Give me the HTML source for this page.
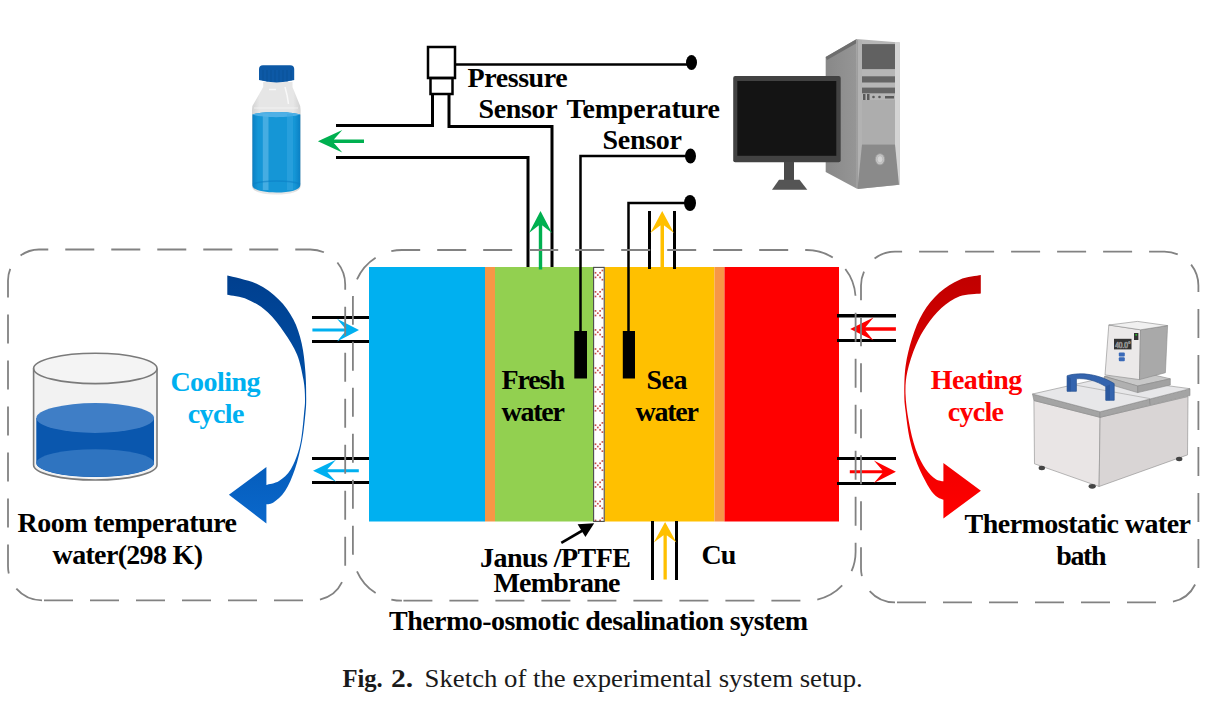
<!DOCTYPE html>
<html><head><meta charset="utf-8">
<style>
html,body{margin:0;padding:0;background:#fff;width:1225px;height:708px;overflow:hidden}
svg{display:block}
.t{font-family:"Liberation Serif",serif;font-weight:bold;fill:#000;font-size:28px}
.cap{font-family:"Liberation Serif",serif;font-size:25.5px;fill:#1a1a1a}
</style></head><body>
<svg width="1225" height="708" viewBox="0 0 1225 708">

<!-- ICONS -->
<defs>
 <linearGradient id="gBlueArr" x1="0" y1="0" x2="0" y2="1">
  <stop offset="0" stop-color="#003f8e"/><stop offset="0.5" stop-color="#0050a8"/><stop offset="1" stop-color="#0a68cc"/>
 </linearGradient>
 <linearGradient id="gRedArr" x1="0" y1="0" x2="0" y2="1">
  <stop offset="0" stop-color="#c00000"/><stop offset="0.45" stop-color="#e00000"/><stop offset="1" stop-color="#ff0000"/>
 </linearGradient>
 <linearGradient id="gTower" x1="0" y1="0" x2="1" y2="0"><stop offset="0" stop-color="#888"/><stop offset="1" stop-color="#969696"/></linearGradient>
 <linearGradient id="gWater" x1="0" y1="0" x2="1" y2="0">
  <stop offset="0" stop-color="#0b80c4"/><stop offset="0.12" stop-color="#1596d6"/><stop offset="0.88" stop-color="#1596d6"/><stop offset="1" stop-color="#0b80c4"/>
 </linearGradient>
 <linearGradient id="gGlass" x1="0" y1="0" x2="1" y2="0">
  <stop offset="0" stop-color="#d2d2d2"/><stop offset="0.15" stop-color="#e6e6e6"/><stop offset="0.85" stop-color="#e6e6e6"/><stop offset="1" stop-color="#d2d2d2"/>
 </linearGradient>
</defs>
<!-- blue curved arrow -->
<path id="blueArrow" fill="url(#gBlueArr)" d="M227.3,275.5 C232.2,276.9 248.1,279.8 256.7,283.8 C265.3,287.8 272.6,293.4 278.7,299.4 C284.8,305.3 289.6,312.2 293.4,319.5 C297.2,326.8 299.7,334.8 301.7,343.4 C303.7,352.0 304.6,361.8 305.3,371.0 C306.1,380.2 306.2,391.3 306.2,398.4 C306.2,405.5 306.1,406.6 305.4,413.7 C304.7,420.8 303.7,431.8 302.0,441.0 C300.3,450.2 297.8,460.7 295.0,469.0 C292.2,477.3 288.8,485.2 285.2,490.8 C281.6,496.4 276.5,500.4 273.4,502.6 C270.3,504.8 267.6,503.9 266.4,504.2 L266.4,523.4 L228.9,494.7 L266.4,467 L266.4,484.9 C268.5,484.2 274.9,483.6 279.0,481.0 C283.1,478.4 287.5,474.9 291.0,469.0 C294.5,463.1 297.8,454.5 300.0,445.3 C302.2,436.1 303.2,421.5 304.0,413.7 C304.8,405.9 305.1,404.0 305.0,398.4 C304.9,392.8 304.8,387.3 303.5,380.0 C302.2,372.7 300.2,362.3 297.0,354.4 C293.8,346.5 289.1,339.4 284.2,332.4 C279.3,325.4 273.8,317.7 267.7,312.2 C261.6,306.7 254.2,302.3 247.5,299.4 C240.8,296.5 230.7,295.6 227.3,294.8 Z"/>
<!-- red curved arrow -->
<path id="redArrow" fill="url(#gRedArr)" d="M980.8,275.1 C977.3,275.9 966.6,276.8 959.7,279.7 C952.8,282.6 945.6,287.0 939.5,292.5 C933.4,298.0 927.6,305.1 923.0,312.7 C918.4,320.3 914.9,329.5 912.0,338.4 C909.1,347.3 906.9,356.7 905.6,365.9 C904.3,375.1 904.3,386.1 904.3,393.4 C904.3,400.7 904.5,402.1 905.4,409.8 C906.3,417.5 907.8,430.2 909.8,439.4 C911.8,448.6 914.8,457.5 917.7,465.1 C920.7,472.7 924.5,479.8 927.5,484.9 C930.5,490.0 932.9,493.2 935.5,495.7 C938.1,498.2 942.1,499.0 943.4,499.7 L943.4,518.5 L980.9,490.8 L943.4,463.1 L943.4,481.3 C942.1,480.9 938.5,480.9 935.5,478.9 C932.5,476.8 928.9,473.9 925.6,469.0 C922.3,464.1 918.5,457.2 915.7,449.3 C912.9,441.4 910.5,430.9 908.8,421.6 C907.1,412.3 905.7,401.8 905.5,393.4 C905.3,385.0 905.7,379.3 907.4,371.4 C909.1,363.4 912.5,353.3 915.7,345.7 C918.9,338.1 922.4,331.8 926.7,325.5 C931.0,319.2 935.9,313.0 941.4,308.1 C946.9,303.2 953.1,298.6 959.7,296.2 C966.3,293.8 977.3,293.9 980.8,293.4 Z"/>

<!-- bottle -->
<g id="bottle">
 <path d="M263.2,82 L292.5,82 L292.5,87 L300.2,106 L300.6,110 L300.6,186 C300.6,192 290,194.5 276.5,194.5 C263,194.5 252,192 252,186 L252,110 L252.4,106 L263.2,87 Z" fill="url(#gGlass)"/>
 <path d="M252.4,114.5 C262,111 290,111 300.3,114.5 L300.3,185 C300.3,190 290,192.5 276.4,192.5 C263,192.5 252.4,190 252.4,185 Z" fill="url(#gWater)"/>
 <path d="M252.4,114.5 C262,111 290,111 300.3,114.5 C290,118 262,118 252.4,114.5 Z" fill="#4fb0e6"/>
 <rect x="262.8" y="114" width="5.7" height="76" fill="#56b4e6" opacity="0.75"/>
 <rect x="287" y="114" width="6" height="76" fill="#3aa8e2" opacity="0.5"/>
 <path d="M253,184 C262,180 291,180 300,184" stroke="#0b7fc4" stroke-width="1.5" fill="none" opacity="0.6"/>
 <path d="M269,89.5 L276,89.5" stroke="#fafafa" stroke-width="1.5" opacity="0.9"/>
 <path d="M285,87 C287,94 288,99 288.5,104" stroke="#fafafa" stroke-width="1.5" fill="none" opacity="0.9"/>
 <path d="M254,108 L298,108" stroke="#f6f6f6" stroke-width="1.2" opacity="0.8"/>
 <path d="M259,69 Q259,65.3 263,65.2 L290.2,65.2 Q294.2,65.3 294.2,69 L294.2,80 Q276.6,84.8 259,80 Z" fill="#0d59a6"/>
 <g stroke="#0a4b8e" stroke-width="0.8" opacity="0.6">
  <line x1="263" y1="70" x2="263" y2="81"/><line x1="267" y1="70" x2="267" y2="82"/><line x1="271" y1="70" x2="271" y2="82"/><line x1="275" y1="70" x2="275" y2="82"/><line x1="279" y1="70" x2="279" y2="82"/><line x1="283" y1="70" x2="283" y2="82"/><line x1="287" y1="70" x2="287" y2="82"/><line x1="291" y1="70" x2="291" y2="81"/>
 </g>
</g>

<!-- computer -->
<g id="computer">
 <!-- tower side -->
 <path d="M825.7,57 L856.8,39 L857.5,189 L825.7,172 Z" fill="url(#gTower)"/>
 <path d="M825.7,57 L856.8,39 L856.8,43 L827,60 Z" fill="#6e6e6e"/>
 <!-- tower front -->
 <path d="M856.5,39 L899.7,42.4 L899.7,184.7 L857.5,189 Z" fill="#b6b6b6"/>
 <rect x="856.5" y="40" width="5.5" height="148" fill="#b2b2b2"/>
 <rect x="856.5" y="40" width="1.3" height="148" fill="#9a9a9a"/>
 <rect x="895" y="42" width="4.7" height="143" fill="#d4d4d4"/>
 <rect x="862" y="44.1" width="33" height="25" fill="#616161"/>
 <rect x="862" y="76.3" width="33" height="6.2" fill="#656565"/>
 <rect x="862" y="87.6" width="33" height="5.7" fill="#656565"/>
 <rect x="863" y="94" width="2.5" height="6" fill="#5a5a5a"/>
 <rect x="867" y="94" width="2.5" height="6" fill="#5a5a5a"/>
 <circle cx="873.5" cy="97" r="1.3" fill="#5a5a5a"/>
 <circle cx="879.5" cy="97" r="1.3" fill="#5a5a5a"/>
 <rect x="885" y="96" width="9" height="2.5" fill="#5a5a5a"/>
 <rect x="862" y="100" width="33" height="44.5" fill="#adadad"/>
 <path d="M862,144.5 L895,144.5 L899,184.7 L857.5,189 Z" fill="#8a8a8a"/>
 <ellipse cx="880" cy="159.3" rx="4.6" ry="5.6" fill="#c4c4c4" stroke="#9c9c9c" stroke-width="0.9"/>
 <ellipse cx="880" cy="159.3" rx="2.8" ry="3.6" fill="#d4d4d4" stroke="#b0b0b0" stroke-width="0.6"/>
 <!-- monitor -->
 <rect x="733.2" y="76" width="107.5" height="86.2" rx="2" fill="#424242"/>
 <rect x="737.3" y="81" width="99" height="74.8" fill="#141414"/>
 <rect x="784" y="162" width="10" height="18" fill="#4a4a4a"/>
 <path d="M779,179.8 L799.5,179.8 L807.3,189.7 L772,189.7 Z" fill="#555"/>
</g>

<!-- beaker -->
<g id="beaker">
 <path d="M33.6,368.4 L33.6,465 A61.7,15 0 0 0 157,465 L157,368.4 Z" fill="#f2f2f2"/>
 <ellipse cx="95.3" cy="368.4" rx="61.7" ry="15.2" fill="#f4f4f4" stroke="#7a7a7a" stroke-width="1.6"/>
 <path d="M36.3,418 L36.3,463 A58.85,14 0 0 0 154,463 L154,418 Z" fill="#0a57ae"/>
 <ellipse cx="95.2" cy="463" rx="58.85" ry="13.8" fill="#2f74c0"/>
 <ellipse cx="95.2" cy="418" rx="58.85" ry="15" fill="#3f7ec6"/>
 <path d="M33.6,368.4 L33.6,465 M157,368.4 L157,465" stroke="#7a7a7a" stroke-width="1.6" fill="none"/>
 <path d="M33.6,465 A61.7,15 0 0 0 157,465" stroke="#7a7a7a" stroke-width="1.6" fill="none"/>
</g>

<!-- thermostatic bath -->
<g id="bath" stroke="#8a8a8a" stroke-width="0.6" stroke-linejoin="round">
 <!-- body faces -->
 <path d="M1033.9,400.5 L1100.1,417.3 L1099.1,486.5 L1034.5,463.8 Z" fill="#e9e5e5"/>
 <path d="M1100.1,417.3 L1188,396.6 L1187.5,454.9 L1099.1,486.5 Z" fill="#d9d5d5"/>
 <!-- feet -->
 <ellipse cx="1041.8" cy="468" rx="3.2" ry="2.2" fill="#444" stroke="none"/>
 <ellipse cx="1092.2" cy="486.3" rx="3.6" ry="2.4" fill="#444" stroke="none"/>
 <ellipse cx="1179.2" cy="459" rx="3.2" ry="2.2" fill="#444" stroke="none"/>
 <!-- rim -->
 <path d="M1032.5,394 L1100.1,411.8 L1100.1,417.3 L1033.9,400.5 Z" fill="#a4a4a4"/>
 <path d="M1100.1,411.8 L1190,388.7 L1190,395.6 L1100.1,417.3 Z" fill="#a4a4a4"/>
 <!-- top -->
 <path d="M1032.5,394 L1106,377.4 L1190,388.7 L1100.1,411.8 Z" fill="#e7e7e9"/>
 <path d="M1149.5,398.5 L1150,404.5" stroke="#8a8a8a" stroke-width="0.8"/>
 <path d="M1075,385 L1149.5,398.5" stroke="#b0b0b0" stroke-width="0.8"/>
 <!-- controller base -->
 <path d="M1104.5,376.4 L1137,371 L1170.3,378.8 L1137.7,386 Z" fill="#c8c8c8"/>
 <path d="M1104.5,376.4 L1137.7,386 L1137.7,392.6 L1105,383 Z" fill="#b0b0b0"/>
 <path d="M1137.7,386 L1170.3,378.8 L1170.3,385 L1137.7,392.6 Z" fill="#a2a2a2"/>
 <!-- controller head -->
 <path d="M1108.8,325 L1140.5,329.8 L1139.5,379.6 L1105,374.9 Z" fill="#ebe9e9"/>
 <path d="M1140.5,329.8 L1167.6,325.6 L1165.4,372.7 L1139.5,379.6 Z" fill="#a9a9a9"/>
 <path d="M1108.8,325 L1137.4,321.4 L1167.6,325.6 L1140.5,329.8 Z" fill="#f0f0f0"/>
 <rect x="1114" y="338.8" width="17.5" height="10.6" fill="#333" stroke="none"/>
 <text x="1115.2" y="347.6" style="font-family:'Liberation Sans',sans-serif;font-size:8.5px;fill:#eee" textLength="15.5" lengthAdjust="spacingAndGlyphs">40.0°</text>
 <rect x="1118.8" y="352.5" width="6" height="4" rx="1" fill="#3a6ab8" stroke="none"/>
 <rect x="1118.8" y="357.3" width="6" height="4" rx="1" fill="#3a6ab8" stroke="none"/>
 <rect x="1134" y="333" width="4.4" height="7" fill="#333" stroke="none"/>
 <circle cx="1136.2" cy="334.8" r="0.9" fill="#2c2" stroke="none"/>
 <!-- handle -->
 <path d="M1067.1,391.3 L1067.1,375.8 C1076,372.6 1096,372.2 1114.2,383.6 L1114.2,400.3 L1105.8,400.3 L1105.8,386.6 C1096,380.6 1085,377.8 1076.4,378.8 L1076.4,391.3 Z" fill="#3464ae" stroke="#25508f" stroke-width="0.7"/>
 <path d="M1067.1,376.2 L1071,378.4 L1071,391.3 L1067.1,391.3 Z" fill="#2b589e" stroke="none"/>
 <path d="M1105.8,386.6 L1110,384.5 L1110,400.3 L1105.8,400.3 Z" fill="#2b589e" stroke="none"/>
</g>


<!-- slabs -->
<rect x="369" y="267" width="116" height="254.5" fill="#00b0f0"/>
<rect x="485" y="267" width="10" height="254.5" fill="#f79646"/>
<rect x="495" y="267" width="98" height="254.5" fill="#92d050"/>
<rect x="604.5" y="267" width="110" height="254.5" fill="#ffc000"/>
<rect x="714.5" y="267" width="10" height="254.5" fill="#f79646"/>
<rect x="724.5" y="267" width="114.5" height="254.5" fill="#ff0000"/>
<!-- membrane -->
<rect x="593.6" y="267.4" width="10.6" height="254" fill="#fff"/>
<g fill="#c8504b"><rect x="594.65" y="271.95" width="1.7" height="1.7"/><rect x="594.65" y="276.55" width="1.7" height="1.7"/><rect x="596.95" y="274.25" width="1.7" height="1.7"/><rect x="599.25" y="276.55" width="1.7" height="1.7"/><rect x="599.25" y="271.95" width="1.7" height="1.7"/><rect x="601.55" y="278.85" width="1.7" height="1.7"/><rect x="601.55" y="269.65" width="1.7" height="1.7"/><rect x="594.65" y="291.00" width="1.7" height="1.7"/><rect x="594.65" y="295.60" width="1.7" height="1.7"/><rect x="596.95" y="293.30" width="1.7" height="1.7"/><rect x="599.25" y="295.60" width="1.7" height="1.7"/><rect x="599.25" y="291.00" width="1.7" height="1.7"/><rect x="601.55" y="297.90" width="1.7" height="1.7"/><rect x="601.55" y="288.70" width="1.7" height="1.7"/><rect x="594.65" y="310.05" width="1.7" height="1.7"/><rect x="594.65" y="314.65" width="1.7" height="1.7"/><rect x="596.95" y="312.35" width="1.7" height="1.7"/><rect x="599.25" y="314.65" width="1.7" height="1.7"/><rect x="599.25" y="310.05" width="1.7" height="1.7"/><rect x="601.55" y="316.95" width="1.7" height="1.7"/><rect x="601.55" y="307.75" width="1.7" height="1.7"/><rect x="594.65" y="329.10" width="1.7" height="1.7"/><rect x="594.65" y="333.70" width="1.7" height="1.7"/><rect x="596.95" y="331.40" width="1.7" height="1.7"/><rect x="599.25" y="333.70" width="1.7" height="1.7"/><rect x="599.25" y="329.10" width="1.7" height="1.7"/><rect x="601.55" y="336.00" width="1.7" height="1.7"/><rect x="601.55" y="326.80" width="1.7" height="1.7"/><rect x="594.65" y="348.15" width="1.7" height="1.7"/><rect x="594.65" y="352.75" width="1.7" height="1.7"/><rect x="596.95" y="350.45" width="1.7" height="1.7"/><rect x="599.25" y="352.75" width="1.7" height="1.7"/><rect x="599.25" y="348.15" width="1.7" height="1.7"/><rect x="601.55" y="355.05" width="1.7" height="1.7"/><rect x="601.55" y="345.85" width="1.7" height="1.7"/><rect x="594.65" y="367.20" width="1.7" height="1.7"/><rect x="594.65" y="371.80" width="1.7" height="1.7"/><rect x="596.95" y="369.50" width="1.7" height="1.7"/><rect x="599.25" y="371.80" width="1.7" height="1.7"/><rect x="599.25" y="367.20" width="1.7" height="1.7"/><rect x="601.55" y="374.10" width="1.7" height="1.7"/><rect x="601.55" y="364.90" width="1.7" height="1.7"/><rect x="594.65" y="386.25" width="1.7" height="1.7"/><rect x="594.65" y="390.85" width="1.7" height="1.7"/><rect x="596.95" y="388.55" width="1.7" height="1.7"/><rect x="599.25" y="390.85" width="1.7" height="1.7"/><rect x="599.25" y="386.25" width="1.7" height="1.7"/><rect x="601.55" y="393.15" width="1.7" height="1.7"/><rect x="601.55" y="383.95" width="1.7" height="1.7"/><rect x="594.65" y="405.30" width="1.7" height="1.7"/><rect x="594.65" y="409.90" width="1.7" height="1.7"/><rect x="596.95" y="407.60" width="1.7" height="1.7"/><rect x="599.25" y="409.90" width="1.7" height="1.7"/><rect x="599.25" y="405.30" width="1.7" height="1.7"/><rect x="601.55" y="412.20" width="1.7" height="1.7"/><rect x="601.55" y="403.00" width="1.7" height="1.7"/><rect x="594.65" y="424.35" width="1.7" height="1.7"/><rect x="594.65" y="428.95" width="1.7" height="1.7"/><rect x="596.95" y="426.65" width="1.7" height="1.7"/><rect x="599.25" y="428.95" width="1.7" height="1.7"/><rect x="599.25" y="424.35" width="1.7" height="1.7"/><rect x="601.55" y="431.25" width="1.7" height="1.7"/><rect x="601.55" y="422.05" width="1.7" height="1.7"/><rect x="594.65" y="443.40" width="1.7" height="1.7"/><rect x="594.65" y="448.00" width="1.7" height="1.7"/><rect x="596.95" y="445.70" width="1.7" height="1.7"/><rect x="599.25" y="448.00" width="1.7" height="1.7"/><rect x="599.25" y="443.40" width="1.7" height="1.7"/><rect x="601.55" y="450.30" width="1.7" height="1.7"/><rect x="601.55" y="441.10" width="1.7" height="1.7"/><rect x="594.65" y="462.45" width="1.7" height="1.7"/><rect x="594.65" y="467.05" width="1.7" height="1.7"/><rect x="596.95" y="464.75" width="1.7" height="1.7"/><rect x="599.25" y="467.05" width="1.7" height="1.7"/><rect x="599.25" y="462.45" width="1.7" height="1.7"/><rect x="601.55" y="469.35" width="1.7" height="1.7"/><rect x="601.55" y="460.15" width="1.7" height="1.7"/><rect x="594.65" y="481.50" width="1.7" height="1.7"/><rect x="594.65" y="486.10" width="1.7" height="1.7"/><rect x="596.95" y="483.80" width="1.7" height="1.7"/><rect x="599.25" y="486.10" width="1.7" height="1.7"/><rect x="599.25" y="481.50" width="1.7" height="1.7"/><rect x="601.55" y="488.40" width="1.7" height="1.7"/><rect x="601.55" y="479.20" width="1.7" height="1.7"/><rect x="594.65" y="500.55" width="1.7" height="1.7"/><rect x="594.65" y="505.15" width="1.7" height="1.7"/><rect x="596.95" y="502.85" width="1.7" height="1.7"/><rect x="599.25" y="505.15" width="1.7" height="1.7"/><rect x="599.25" y="500.55" width="1.7" height="1.7"/><rect x="601.55" y="507.45" width="1.7" height="1.7"/><rect x="601.55" y="498.25" width="1.7" height="1.7"/><rect x="594.65" y="519.60" width="1.7" height="1.7"/><rect x="599.25" y="519.60" width="1.7" height="1.7"/><rect x="601.55" y="517.30" width="1.7" height="1.7"/></g>
<rect x="593.6" y="267.4" width="10.6" height="254" fill="none" stroke="#4a4a4a" stroke-width="1.1"/>

<!-- pipes left -->
<g stroke="#000" stroke-width="3" fill="none">
  <line x1="312" y1="317.5" x2="369" y2="317.5"/>
  <line x1="312" y1="341.5" x2="369" y2="341.5"/>
  <line x1="312" y1="458.5" x2="369" y2="458.5"/>
  <line x1="312" y1="482.5" x2="369" y2="482.5"/>
  <line x1="837" y1="315.8" x2="896" y2="315.8" stroke-width="3.4"/>
  <line x1="837" y1="340.4" x2="896" y2="340.4"/>
  <line x1="837" y1="458.4" x2="896" y2="458.4"/>
  <line x1="837" y1="483.5" x2="896" y2="483.5"/>
  <!-- top pipes -->
  <polyline points="336,125.5 432.5,125.5 432.5,94"/>
  <polyline points="449,94 449,126.5 552,126.5 552,267"/>
  <polyline points="336,157.5 528,157.5 528,267"/>
  <!-- pressure sensor -->
  <rect x="428" y="47" width="27" height="31" stroke-width="2.5"/>
  <rect x="430.5" y="78" width="22" height="16" stroke-width="2.5"/>
  <!-- yellow pipes -->
  <line x1="649.5" y1="211" x2="649.5" y2="269"/>
  <line x1="674.5" y1="211" x2="674.5" y2="269"/>
  <line x1="652.5" y1="521" x2="652.5" y2="580"/>
  <line x1="676.5" y1="521" x2="676.5" y2="580"/>
</g>
<!-- wires -->
<g stroke="#000" stroke-width="2.5" fill="none">
  <line x1="455" y1="64.5" x2="690" y2="64.5"/>
  <polyline points="580.5,378 580.5,156 690,156"/>
  <polyline points="628.5,378 628.5,203 690,203"/>
</g>
<g fill="#000">
  <ellipse cx="691.5" cy="62.5" rx="5.5" ry="7.5"/>
  <ellipse cx="690.5" cy="156" rx="5.5" ry="7.5"/>
  <ellipse cx="690" cy="203" rx="6" ry="8"/>
  <rect x="574.3" y="331" width="12.7" height="47.5"/>
  <rect x="622.8" y="331" width="12.2" height="47.5"/>
</g>

<!-- arrows -->
<path d="M317.9,141.2 L342.3,129.9 L332.3,141.2 L342.3,152.5 Z M331.3,139.5 L364.0,139.5 L364.0,142.9 L331.3,142.9 Z" fill="#00b050"/>
<path d="M540.5,211.1 L552.0,233.1 L540.5,224.1 L529.0,233.1 Z M542.2,223.1 L542.2,269.4 L538.8,269.4 L538.8,223.1 Z" fill="#00b050"/>
<path d="M662.2,211.1 L674.0,233.1 L662.2,224.1 L650.4,233.1 Z M664.0,223.1 L664.0,267.0 L660.5,267.0 L660.5,223.1 Z" fill="#ffc000"/>
<path d="M665.1,521.9 L676.4,542.4 L665.1,533.9 L653.8,542.4 Z M666.8,532.9 L666.8,579.6 L663.5,579.6 L663.5,532.9 Z" fill="#ffc000"/>
<path d="M359.0,330.1 L337.0,341.4 L346.5,330.1 L337.0,318.8 Z M347.5,331.6 L312.4,331.6 L312.4,328.6 L347.5,328.6 Z" fill="#00b0f0"/>
<path d="M313.0,470.8 L336.0,459.8 L326.0,470.8 L336.0,481.8 Z M325.0,469.3 L358.8,469.3 L358.8,472.3 L325.0,472.3 Z" fill="#00b0f0"/>
<path d="M850.2,329.0 L873.5,317.4 L864.0,329.0 L873.5,340.6 Z M863.0,327.2 L895.9,327.2 L895.9,330.8 L863.0,330.8 Z" fill="#ff0000"/>
<path d="M895.9,471.7 L873.9,483.0 L883.7,471.7 L873.9,460.4 Z M884.7,473.2 L849.8,473.2 L849.8,470.2 L884.7,470.2 Z" fill="#ff0000"/>
<!-- membrane pointer -->
<line x1="561.3" y1="542.8" x2="586" y2="528.5" stroke="#000" stroke-width="2.6"/>
<polygon points="594.2,523.2 577.6,524.2 585.4,537" fill="#000"/>

<!-- boxes -->
<g fill="none" stroke="#828282" stroke-width="1.8" stroke-dasharray="29 17">
<path d="M42.0,600.3 L313.2,600.3 A32,32 0 0 0 345.2,568.3 L345.2,284.5 A35,35 0 0 0 310.2,249.5 L39.0,249.5 A31,31 0 0 0 8.0,280.5 L8.0,566.3 A34,34 0 0 0 42.0,600.3" stroke-dashoffset="-2"/>
<path d="M401.9,600.7 L806.6,600.7 A49,49 0 0 0 855.6,551.7 L855.6,299.0 A49,49 0 0 0 806.6,250.0 L401.9,250.0 A49,49 0 0 0 352.9,299.0 L352.9,551.7 A49,49 0 0 0 401.9,600.7" stroke-dashoffset="-1.5"/>
<path d="M895.0,602.4 L1166.4,602.4 A32,32 0 0 0 1198.4,570.4 L1198.4,285.6 A34,34 0 0 0 1164.4,251.6 L895.0,251.6 A34,34 0 0 0 861.0,285.6 L861.0,568.4 A34,34 0 0 0 895.0,602.4" stroke-dashoffset="-2"/>
</g>
<!-- /boxes -->

<!-- texts -->
<text class="t" x="467.6" y="86.5" textLength="100.0" lengthAdjust="spacing">Pressure</text>
<text class="t" x="478.4" y="118" textLength="79.2" lengthAdjust="spacing">Sensor</text>
<text class="t" x="566.6" y="118" textLength="153.4" lengthAdjust="spacing">Temperature</text>
<text class="t" x="602.6" y="149" textLength="79.4" lengthAdjust="spacing">Sensor</text>
<text class="t" x="501.4" y="388.6" textLength="63.6" lengthAdjust="spacing">Fresh</text>
<text class="t" x="501.4" y="421" textLength="63.6" lengthAdjust="spacing">water</text>
<text class="t" x="646.4" y="388.6" textLength="41.0" lengthAdjust="spacing">Sea</text>
<text class="t" x="635.4" y="421" textLength="63.6" lengthAdjust="spacing">water</text>
<text class="t" x="480.0" y="566.6" textLength="151.0" lengthAdjust="spacing">Janus /PTFE</text>
<text class="t" x="493.4" y="592.4" textLength="127.0" lengthAdjust="spacing">Membrane</text>
<text class="t" x="701.6" y="564" textLength="34.8" lengthAdjust="spacing">Cu</text>
<text class="t" x="389.0" y="630" textLength="419.0" lengthAdjust="spacing">Thermo-osmotic desalination system</text>
<text class="t" x="17.6" y="532" textLength="219.4" lengthAdjust="spacing">Room temperature</text>
<text class="t" x="52.6" y="564.4" textLength="150.4" lengthAdjust="spacing">water(298 K)</text>
<text class="t" x="964.6" y="532.7" textLength="226.4" lengthAdjust="spacing">Thermostatic water</text>
<text class="t" x="1056.2" y="564.8" textLength="50.4" lengthAdjust="spacing">bath</text>
<text class="t" x="170.4" y="390.6" textLength="90.2" lengthAdjust="spacing" style="fill:#00b0f0">Cooling</text>
<text class="t" x="187.8" y="422.5" textLength="56.6" lengthAdjust="spacing" style="fill:#00b0f0">cycle</text>
<text class="t" x="930.8" y="388.9" textLength="91.4" lengthAdjust="spacing" style="fill:#ff0000">Heating</text>
<text class="t" x="947.8" y="421.3" textLength="56.2" lengthAdjust="spacing" style="fill:#ff0000">cycle</text>
<text class="cap" x="342.4" y="686.8" textLength="40.4" lengthAdjust="spacingAndGlyphs" style="font-weight:bold">Fig.</text>
<text class="cap" x="391.0" y="686.8" textLength="22.2" lengthAdjust="spacingAndGlyphs" style="font-weight:bold">2.</text>
<text class="cap" x="424.6" y="686.8" textLength="438.2" lengthAdjust="spacingAndGlyphs" style="font-weight:normal">Sketch of the experimental system setup.</text>
<!-- /texts -->

</svg>
</body></html>
